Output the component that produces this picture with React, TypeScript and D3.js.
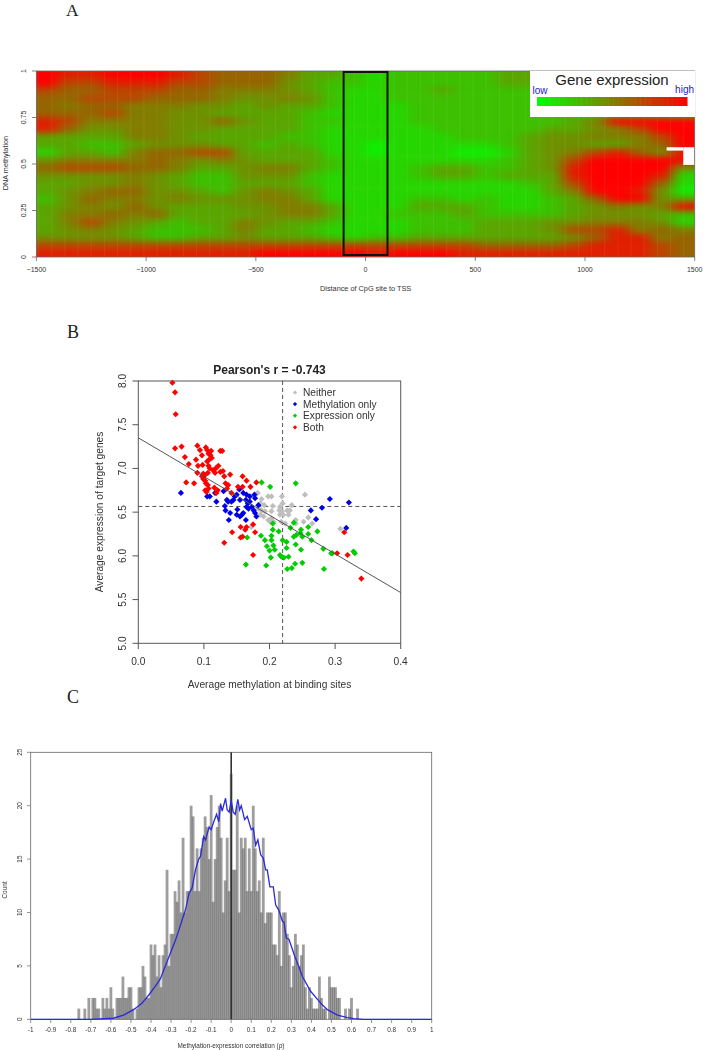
import React from "react";
import * as d3 from "d3";

// ---------- Panel A: gene expression heat map (0 = low, 9 = high), rows top to bottom
const heatRows = [
  "9889998766 6533212222 2332222222",
  "9778887766 6432212222 2332222222",
  "7667776655 5432112232 2222222222",
  "6677766654 4542112222 2222222222",
  "6566555443 4332111222 2222222222",
  "6667554433 3321111222 2222222222",
  "8755554464 3322111222 2222359999",
  "8644554433 3321111122 2223345799",
  "3333554333 3221111112 2234455579",
  "3322344433 2321101111 1234433569",
  "1332566773 3331101110 0134578648",
  "4555565454 3332111111 1234799999",
  "6777665334 5532111233 2234899994",
  "4444543224 4421111233 2333899981",
  "3344543223 3321111111 1123799961",
  "3456644324 5431111111 1113599840",
  "2465545444 5531111221 2112369943",
  "3454643334 4553111333 2112345459",
  "3556563333 4553112223 2222344432",
  "3575432335 4332111222 3334455541",
  "3454322235 3321111222 3334778565",
  "4444322334 3332122333 3333468856",
  "7777777777 7777777777 6666788876",
  "8888888888 9999989998 8888888876",
];
const heatLevels = [0, 1, 2, 3, 4, 5, 6, 7, 8, 9];
const heatPalette = ["#0cf000", "#26d600", "#3cc000", "#5aa500", "#6e9100", "#827d00", "#966400", "#b94600", "#e11e00", "#ff0000"];
const rampLevels = [0, 9];
const rampPalette = ["#00ff00", "#ff0000"];
const heatX = [-1500, 1500];
const heatY = [0, 1];
const missingX0 = [1372, 1448];
const missingX1 = [1448, 1500];
const missingY0 = [0.572, 0.495];
const missingY1 = [0.59, 0.59];
const windowX = [-100, 100];
const heatXTicks = [-1500, -1000, -500, 0, 500, 1000, 1500];
const heatYTicks = [0, 0.25, 0.5, 0.75, 1];
const heatYLabels = ["0", "0.25", "0.5", "0.75", "1"];

// ---------- Panel B: scatter
const neitherX = [.182,.188,.186,.192,.183,.188,.186,.193,.198,.203,.219,.205,.203,.198,.203,.201,.206,.216,.220,.215,.219,.216,.221,.234,.227,.231,.229,.218,.224,.240,.240,.252,.259,.265,.254,.172,.308,.191];
const neitherY = [6.72,6.65,6.60,6.58,6.54,6.52,6.47,6.51,6.68,6.68,6.68,6.57,6.51,6.41,6.43,6.39,6.39,6.56,6.60,6.52,6.51,6.47,6.47,6.58,6.52,6.52,6.47,6.39,6.37,6.41,6.37,6.39,6.44,6.37,6.70,6.33,6.31,6.45];
const methX = [.065,.105,.109,.119,.117,.130,.132,.137,.135,.145,.147,.150,.154,.160,.165,.170,.177,.178,.155,.164,.170,.183,.133,.140,.138,.151,.150,.158,.160,.165,.168,.173,.176,.178,.180,.164,.155,.167,.142,.263,.280,.271,.292,.321,.317];
const methY = [6.72,6.68,6.68,6.62,6.72,6.74,6.57,6.62,6.64,6.64,6.68,6.70,6.76,6.72,6.70,6.68,6.70,6.66,6.64,6.64,6.62,6.58,6.52,6.49,6.41,6.53,6.47,6.47,6.49,6.56,6.54,6.56,6.52,6.49,6.45,6.41,6.45,6.60,6.62,6.52,6.55,6.42,6.65,6.61,6.32];
const exprX = [.188,.201,.240,.166,.187,.193,.196,.200,.205,.205,.203,.203,.206,.208,.202,.214,.164,.195,.216,.218,.222,.229,.220,.226,.226,.227,.234,.239,.250,.232,.237,.237,.241,.240,.247,.248,.250,.248,.259,.259,.264,.273,.282,.283,.294,.296,.328,.330];
const exprY = [6.84,6.79,6.83,6.21,6.23,6.18,6.11,6.06,6.37,6.30,6.23,6.18,6.12,6.07,5.98,6.28,5.90,5.89,6.01,5.99,5.98,5.99,6.18,6.16,6.09,5.85,5.86,5.91,5.92,6.32,6.38,6.22,6.24,6.13,6.26,6.30,6.22,6.07,6.33,6.25,6.18,6.28,6.08,5.85,6.03,6.03,6.05,6.03];
const bothX = [.052,.056,.057,.056,.066,.071,.077,.090,.094,.097,.088,.091,.098,.103,.105,.111,.107,.110,.105,.108,.112,.107,.109,.090,.099,.106,.101,.097,.073,.085,.099,.102,.103,.106,.102,.107,.104,.116,.121,.119,.114,.118,.122,.117,.125,.128,.125,.129,.131,.133,.137,.135,.140,.142,.152,.159,.159,.165,.171,.180,.143,.131,.156,.163,.165,.175,.178,.156,.159,.175,.303,.314,.319,.340];
const bothY = [7.98,7.87,7.62,7.23,7.25,7.13,7.05,7.26,7.21,7.15,7.10,7.03,7.04,7.24,7.21,7.20,7.17,7.15,7.08,7.10,7.12,7.03,7.00,6.95,6.94,6.95,6.92,6.91,6.84,6.83,6.88,6.86,6.83,6.81,6.75,6.77,6.73,6.78,6.75,6.72,6.98,7.00,7.03,6.95,7.20,7.20,6.96,6.97,6.91,6.83,6.81,6.77,6.93,6.72,6.79,6.79,6.91,6.86,6.79,6.84,6.27,6.15,6.33,6.30,6.33,6.36,6.27,6.21,6.22,6.01,6.03,6.27,6.01,5.74];
const fitX = [0, 0.4];
const fitY = [7.35, 5.58];
const cutX = 0.22;
const cutY = 6.565;
const scatterXTicks = [0, 0.1, 0.2, 0.3, 0.4];
const scatterYTicks = [5, 5.5, 6, 6.5, 7, 7.5, 8];
const legendNames = ["Neither", "Methylation only", "Expression only", "Both"];
const legendColors = ["#bebebe", "#0000e6", "#00cd00", "#ff0000"];

// ---------- Panel C: histogram, bins of 0.01 starting at -0.76
const histStart = -0.76;
const histCounts = [1,0,0,1,0,2,0,2,2,1,1,0,2,1,2,1,3,1,0,2,2,2,4,2,2,3,3,1,0,1,3,3,5,4,2,2,7,6,7,4,6,3,6,7,14,5,8,8,12,11,13,10,17,10,12,12,20,19,12,16,12,16,17,19,18,15,21,11,15,18,20,17,10,13,17,12,
  23,14,14,20,10,17,16,17,12,16,12,20,16,12,13,10,17,9,10,10,10,7,7,6,12,5,10,10,8,6,3,5,8,7,5,6,7,3,1,3,2,1,1,1,4,2,1,1,0,4,3,3,3,2,2,0,0,1,0,1,2,0,0,1];
const densX = [-1,-.7,-.587,-.537,-.487,-.445,-.41,-.378,-.353,-.32,-.303,-.278,-.26,-.245,-.228,-.21,-.195,-.178,-.162,-.153,-.137,-.128,-.11,-.1,-.087,-.073,-.062,-.053,-.045,-.028,-.02,-.01,0,.01,.02,.033,.042,.05,.067,.08,.1,.11,.122,.133,.147,.16,.172,.18,.193,.21,.222,.238,.255,.263,.275,.288,.317,.338,.355,.397,.42,.447,.48,.53,.58,.613,.66,1];
const densY = [0,0,.1,.4,.9,1.5,2.3,3.1,3.8,5.4,6.2,7.4,8.4,9.3,10.25,11.8,12.3,14,15,15.25,17.1,16.8,18,17.75,18.5,19.2,18.5,20.2,19.5,20.7,19.6,19.4,20.5,19.4,19.2,20.6,19.6,20,18.7,19,17.75,17.9,16.3,16.8,15.4,15.1,14,14,12.4,12.4,10.7,10.2,9.2,9.1,7.6,7.5,5.9,4.9,4,2.6,2.1,1.5,.9,.4,.15,.06,0,0];
const histXTicks = d3.range(-10, 11).map((d) => d / 10);
const histYTicks = [0, 5, 10, 15, 20, 25];

const SANS = "'Liberation Sans', Arial, sans-serif";
const AXIS = "#666";
const TEXT = "#333";

const heatColor = d3.scaleLinear<string>().domain(heatLevels).range(heatPalette);
const rampColor = d3.scaleLinear<string>().domain(rampLevels).range(rampPalette);

function HeatPanel() {
  const x = d3.scaleLinear().domain(heatX).range([36.4, 694.7]);
  const y = d3.scaleLinear().domain(heatY).range([257, 71]);
  const grid = heatRows.map((r) => r.replace(/ /g, "").split("").map(Number));
  const nr = grid.length, nc = grid[0].length;
  const cellX = d3.scaleLinear().domain([0, nc]).range(heatX);
  const cellY = d3.scaleLinear().domain([0, nr]).range([1, 0]);
  const over = 30;
  const ramp = d3.range(0, 1.0001, 1 / 60);
  const rampX = d3.scaleLinear().domain([0, 1]).range([537, 684.5]);
  const stripes = d3.range(-1490, 1500, 60);
  return (
    <g>
      <defs>
        <clipPath id="heatClip"><rect x={x(-1500)} y={y(1)} width={x(1500) - x(-1500)} height={y(0) - y(1)} /></clipPath>
        <filter id="heatBlur" x="-5%" y="-10%" width="110%" height="120%" colorInterpolationFilters="sRGB">
          <feGaussianBlur stdDeviation="7 3" />
        </filter>
      </defs>
      <g clipPath="url(#heatClip)">
        <g filter="url(#heatBlur)">
          {grid.map((row, r) => row.map((v, c) => {
            const x0 = x(cellX(c)) - (c === 0 ? over : 0);
            const x1 = x(cellX(c + 1)) + (c === nc - 1 ? over : 0);
            const y0 = y(cellY(r)) - (r === 0 ? over : 0);
            const y1 = y(cellY(r + 1)) + (r === nr - 1 ? over : 0);
            return <rect key={`${r}-${c}`} x={x0} y={y0} width={x1 - x0 + 0.5} height={y1 - y0 + 0.5} fill={heatColor(v)} />;
          }))}
        </g>
        {stripes.map((s) => <line key={s} x1={x(s)} x2={x(s)} y1={71} y2={257} stroke="#fff" strokeOpacity={0.07} />)}
      </g>
      {missingX0.map((m, i) => (
        <rect key={i} x={x(m)} y={y(missingY1[i])} width={x(missingX1[i]) - x(m)} height={y(missingY0[i]) - y(missingY1[i])} fill="#fff" />
      ))}
      <rect x={x(-1500)} y={71} width={x(1500) - x(-1500)} height={186} fill="none" stroke={AXIS} strokeWidth={0.8} />
      <rect x={x(windowX[0])} y={72} width={x(windowX[1]) - x(windowX[0])} height={183} fill="none" stroke="#111" strokeWidth={2} />

      <rect x={530} y={71} width={165} height={46} fill="#fff" />
      <text x={612} y={85} textAnchor="middle" fontFamily={SANS} fontSize={15} fill="#222">Gene expression</text>
      <text x={532.5} y={94} fontFamily={SANS} fontSize={10} fill="#2222cc">low</text>
      <text x={694} y={93} textAnchor="end" fontFamily={SANS} fontSize={10} fill="#2222cc">high</text>
      {ramp.map((t) => (
        <rect key={t} x={rampX(t)} y={97} width={3} height={9} fill={rampColor(t * 9)} />
      ))}

      {heatXTicks.map((t) => (
        <g key={t}>
          <line x1={x(t)} x2={x(t)} y1={257} y2={261} stroke={AXIS} strokeWidth={0.8} />
          <text x={x(t)} y={272} textAnchor="middle" fontFamily={SANS} fontSize={7} fill={TEXT}>{t < 0 ? `\u2212${-t}` : t}</text>
        </g>
      ))}
      {heatYTicks.map((t, i) => (
        <g key={t}>
          <line x1={32} x2={36.4} y1={y(t)} y2={y(t)} stroke={AXIS} strokeWidth={0.8} />
          <text transform={`translate(25.5,${y(t)}) rotate(-90)`} textAnchor="middle" fontFamily={SANS} fontSize={7} fill={TEXT}>{heatYLabels[i]}</text>
        </g>
      ))}
      <text x={365.6} y={291} textAnchor="middle" fontFamily={SANS} fontSize={7.3} fill={TEXT}>Distance of CpG site to TSS</text>
      <text transform="translate(8,163) rotate(-90)" textAnchor="middle" fontFamily={SANS} fontSize={7.3} fill={TEXT}>DNA methylation</text>
    </g>
  );
}

function ScatterPanel() {
  const x = d3.scaleLinear().domain([0, 0.4]).range([138.3, 400.7]);
  const y = d3.scaleLinear().domain([5, 8]).range([643.3, 381]);
  const marker = d3.symbol(d3.symbolSquare, 19)() as string;
  const series = [
    { xs: neitherX, ys: neitherY, c: legendColors[0] },
    { xs: methX, ys: methY, c: legendColors[1] },
    { xs: exprX, ys: exprY, c: legendColors[2] },
    { xs: bothX, ys: bothY, c: legendColors[3] },
  ];
  const fit = d3.line<number>().x((d) => x(d)).y((_, i) => y(fitY[i]))(fitX) as string;
  return (
    <g filter="url(#soft)">
      <text x={269.5} y={374} textAnchor="middle" fontFamily={SANS} fontWeight="bold" fontSize={12} fill="#222">Pearson's r = -0.743</text>
      <rect x={x(0)} y={y(8)} width={x(0.4) - x(0)} height={y(5) - y(8)} fill="none" stroke="#555" strokeWidth={1} />
      <line x1={x(cutX)} x2={x(cutX)} y1={y(8)} y2={y(5)} stroke="#555" strokeWidth={1} strokeDasharray="4 3" />
      <line x1={x(0)} x2={x(0.4)} y1={y(cutY)} y2={y(cutY)} stroke="#555" strokeWidth={1} strokeDasharray="4 3" />
      {series.map((s) => s.xs.map((v, i) => (
        <path key={`${s.c}${i}`} d={marker} transform={`translate(${x(v)},${y(s.ys[i])}) rotate(45)`} fill={s.c} />
      )))}
      <path d={fit} fill="none" stroke="#555" strokeWidth={1} />
      {legendNames.map((n, i) => (
        <g key={n}>
          <path d={d3.symbol(d3.symbolSquare, 9)() as string} transform={`translate(295,${392.5 + i * 11.6}) rotate(45)`} fill={legendColors[i]} />
          <text x={303} y={396 + i * 11.6} fontFamily={SANS} fontSize={10.2} fill={TEXT}>{n}</text>
        </g>
      ))}
      {scatterXTicks.map((t) => (
        <g key={t}>
          <line x1={x(t)} x2={x(t)} y1={643.3} y2={649} stroke="#555" />
          <text x={x(t)} y={665} textAnchor="middle" fontFamily={SANS} fontSize={10.2} fill={TEXT}>{t.toFixed(1)}</text>
        </g>
      ))}
      {scatterYTicks.map((t) => (
        <g key={t}>
          <line x1={132.5} x2={138.3} y1={y(t)} y2={y(t)} stroke="#555" />
          <text transform={`translate(126,${y(t)}) rotate(-90)`} textAnchor="middle" fontFamily={SANS} fontSize={10.2} fill={TEXT}>{t.toFixed(1)}</text>
        </g>
      ))}
      <text x={269.5} y={688} textAnchor="middle" fontFamily={SANS} fontSize={10.2} fill={TEXT}>Average methylation at binding sites</text>
      <text transform="translate(103,512) rotate(-90)" textAnchor="middle" fontFamily={SANS} fontSize={10.2} fill={TEXT}>Average expression of target genes</text>
    </g>
  );
}

function HistPanel() {
  const x = d3.scaleLinear().domain([-1, 1]).range([30.7, 431.7]);
  const y = d3.scaleLinear().domain([0, 25]).range([1019.3, 752.3]);
  const density = d3.line<number>().x((d) => x(d)).y((_, i) => y(densY[i]))(densX) as string;
  return (
    <g filter="url(#soft)">
      <rect x={x(-1)} y={y(25)} width={x(1) - x(-1)} height={y(0) - y(25)} fill="none" stroke={AXIS} strokeWidth={0.8} />
      {histCounts.map((c, i) => {
        const v = histStart + i * 0.01;
        return c > 0 ? (
          <rect key={i} x={x(v) - 1.4} y={y(c)} width={2.8} height={y(0) - y(c)} fill="#5e5e5e" fillOpacity={0.6} />
        ) : null;
      })}
      <line x1={x(0)} x2={x(0)} y1={y(25)} y2={y(0)} stroke="#333" strokeWidth={1.6} />
      <path d={density} fill="none" stroke="#2a2ad8" strokeWidth={1.3} />
      {histXTicks.map((t) => (
        <g key={t}>
          <line x1={x(t)} x2={x(t)} y1={1019.3} y2={1023} stroke={AXIS} strokeWidth={0.7} />
          <text x={x(t)} y={1032} textAnchor="middle" fontFamily={SANS} fontSize={6.4} fill={TEXT}>{t}</text>
        </g>
      ))}
      {histYTicks.map((t) => (
        <g key={t}>
          <line x1={27} x2={30.7} y1={y(t)} y2={y(t)} stroke={AXIS} strokeWidth={0.7} />
          <text transform={`translate(22,${y(t)}) rotate(-90)`} textAnchor="middle" fontFamily={SANS} fontSize={6.4} fill={TEXT}>{t}</text>
        </g>
      ))}
      <text x={231} y={1048} textAnchor="middle" fontFamily={SANS} fontSize={6.4} fill={TEXT}>Methylation-expression correlation (ρ)</text>
      <text transform="translate(7,890) rotate(-90)" textAnchor="middle" fontFamily={SANS} fontSize={6.4} fill={TEXT}>Count</text>
    </g>
  );
}

export default function App() {
  return (
    <svg width={705} height={1050} viewBox="0 0 705 1050" style={{ position: "absolute", left: 0, top: 0, background: "#fff" }}>
      <defs>
        <filter id="soft" x="0" y="0" width="100%" height="100%"><feGaussianBlur stdDeviation="0.3" /></filter>
      </defs>
      <HeatPanel />
      <ScatterPanel />
      <HistPanel />
      <text x={66} y={16} fontFamily="'Liberation Serif', serif" fontSize={17.5} fill="#222">A</text>
      <text x={67} y={338} fontFamily="'Liberation Serif', serif" fontSize={18} fill="#222">B</text>
      <text x={67} y={703} fontFamily="'Liberation Serif', serif" fontSize={18} fill="#222">C</text>
    </svg>
  );
}
